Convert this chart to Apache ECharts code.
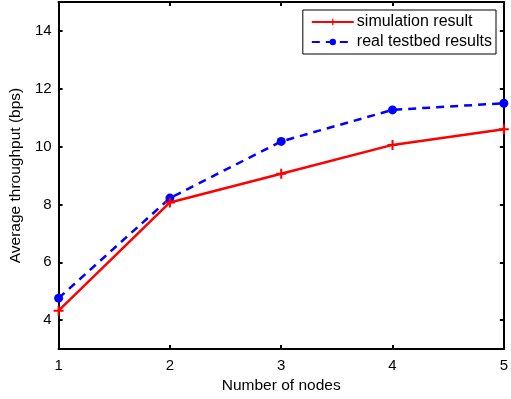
<!DOCTYPE html>
<html><head><meta charset="utf-8">
<script src="https://cdn.jsdelivr.net/npm/echarts@6/dist/echarts.min.js"></script>
<style>html,body{margin:0;padding:0;background:#fff}#c{width:511px;height:399px}</style>
</head><body><div id="c"></div>
<script>
const nodes = [1, 2, 3, 4, 5];
const simulation = [4.33, 8.07, 9.06, 10.06, 10.6];
const testbed = [4.76, 8.22, 10.18, 11.27, 11.5];
const yTicks = [4, 6, 8, 10, 12, 14];
const xTicks = [1, 2, 3, 4, 5];

const font = 'Liberation Sans, Arial, sans-serif';
const plus = 'path://M4,0L6,0L6,4L10,4L10,6L6,6L6,10L4,10L4,6L0,6L0,4L4,4Z';
const chart = echarts.init(document.getElementById('c'));
const axisCommon = {
  axisLine: {show: true, onZero: false, lineStyle: {color: '#000', width: 2}},
  axisTick: {show: true, inside: true, length: 4, lineStyle: {color: '#000', width: 2}},
  splitLine: {show: false}
};
chart.setOption({
  animation: false,
  grid: {left: 58, right: 5, top: 2, bottom: 46, containLabel: false},
  legend: {
    right: 15, top: 10, orient: 'vertical', itemGap: 4,
    backgroundColor: '#fff', borderColor: '#000', borderWidth: 1,
    padding: [4, 4, 4, 8], itemWidth: 42, itemHeight: 8,
    textStyle: {fontFamily: font, fontSize: 16, color: '#000', padding: [0, 0, 0, -2]},
    data: ['simulation result', 'real testbed results']
  },
  xAxis: [
    Object.assign({}, axisCommon, {
      type: 'value', min: 1, max: 5, interval: 1, position: 'bottom',
      name: 'Number of nodes', nameLocation: 'middle', nameGap: 26,
      nameTextStyle: {fontFamily: font, fontSize: 15.5, color: '#000'},
      axisLabel: {fontFamily: font, fontSize: 15, color: '#000', margin: 9, customValues: xTicks},
      axisTick: Object.assign({}, axisCommon.axisTick, {customValues: xTicks})
    }),
    Object.assign({}, axisCommon, {
      type: 'value', min: 1, max: 5, interval: 1, position: 'top',
      axisLabel: {show: false},
      axisTick: Object.assign({}, axisCommon.axisTick, {customValues: xTicks})
    })
  ],
  yAxis: [
    Object.assign({}, axisCommon, {
      type: 'value', min: 3, max: 15, interval: 1, position: 'left',
      name: 'Average throughput (bps)', nameLocation: 'middle', nameGap: 31,
      nameTextStyle: {fontFamily: font, fontSize: 15.5, color: '#000'},
      axisLabel: {fontFamily: font, fontSize: 15, color: '#000', margin: 7, customValues: yTicks},
      axisTick: Object.assign({}, axisCommon.axisTick, {customValues: yTicks})
    }),
    Object.assign({}, axisCommon, {
      type: 'value', min: 3, max: 15, interval: 1, position: 'right',
      axisLabel: {show: false},
      axisTick: Object.assign({}, axisCommon.axisTick, {customValues: yTicks})
    })
  ],
  series: [
    {
      name: 'simulation result', type: 'line',
      data: nodes.map((n, i) => [n, simulation[i]]),
      symbol: plus, symbolSize: 10, showAllSymbol: true,
      lineStyle: {color: '#ff0000', width: 2.5},
      itemStyle: {color: '#ff0000'}, z: 3
    },
    {
      name: 'real testbed results', type: 'line',
      data: nodes.map((n, i) => [n, testbed[i]]),
      symbol: 'circle', symbolSize: 9, showAllSymbol: true,
      lineStyle: {color: '#0000ff', width: 2.5, type: [8, 6]},
      itemStyle: {color: '#0000ff'}, z: 2
    }
  ]
});
</script></body></html>
